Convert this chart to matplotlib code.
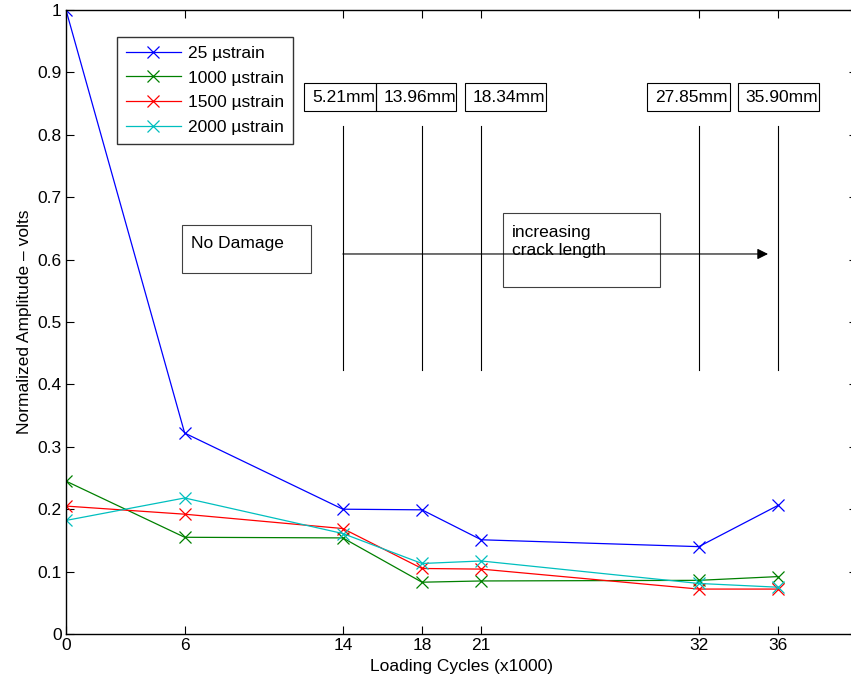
import matplotlib
matplotlib.use("Agg")
import matplotlib.pyplot as plt
from matplotlib.patches import Rectangle

plt.rcParams['font.family'] = ['Liberation Sans', 'DejaVu Sans']

cycles = [0, 6, 14, 18, 21, 32, 36]
amp_25 = [1.0, 0.322, 0.200, 0.199, 0.151, 0.140, 0.206]
amp_1000 = [0.245, 0.155, 0.154, 0.083, 0.085, 0.086, 0.092]
amp_1500 = [0.205, 0.192, 0.169, 0.105, 0.104, 0.072, 0.072]
amp_2000 = [0.182, 0.218, 0.161, 0.113, 0.117, 0.081, 0.075]
series_labels = ['25 µstrain', '1000 µstrain', '1500 µstrain', '2000 µstrain']
series_colors = ['#0000ff', '#008000', '#ff0000', '#00bfbf']

crack_cycles = [14, 18, 21, 32, 36]
crack_labels = ['5.21mm', '13.96mm', '18.34mm', '27.85mm', '35.90mm']
# box left/right in data units (annotation placement)
crack_box_x = [(12.03, 15.67), (15.67, 19.72), (20.17, 24.27), (29.37, 33.57), (33.97, 38.07)]

FS = 12.5

fig = plt.figure(figsize=(8.51, 6.85), dpi=100)
ax = fig.add_axes([66/851, 51/685, 791/851, 624/685])

for ys, lab, col in zip([amp_25, amp_1000, amp_1500, amp_2000], series_labels, series_colors):
    ax.plot(cycles, ys, color=col, marker='x', markersize=9, lw=0.9,
            markeredgewidth=0.9, label=lab)

ax.set_xlim(0, 40)
ax.set_ylim(0, 1)
ax.set_xticks(cycles)
ax.set_xticklabels([str(c) for c in cycles])
ax.set_yticks([i/10 for i in range(11)])
ax.set_yticklabels(['0'] + ['%.1f' % (i/10) for i in range(1, 10)] + ['1'])
ax.tick_params(direction='in', top=True, right=True, labelsize=FS, length=5.5, width=0.8, pad=3)
for s in ax.spines.values():
    s.set_linewidth(1.0)

ax.set_xlabel('Loading Cycles (x1000)', fontsize=FS, labelpad=4)
ax.set_ylabel('Normalized Amplitude – volts', fontsize=FS, labelpad=4)

# crack length boxes and vertical lines
for c, lab, (x0, x1) in zip(crack_cycles, crack_labels, crack_box_x):
    ax.add_patch(Rectangle((x0, 0.838), x1 - x0, 0.045, fill=False, ec='black', lw=0.8))
    ax.text(x0 + 0.4, 0.8605, lab, fontsize=FS, va='center', ha='left')
    ax.plot([c, c], [0.423, 0.814], color='black', lw=0.8)

# No damage box
ax.add_patch(Rectangle((5.86, 0.579), 12.39 - 5.86, 0.655 - 0.579, fill=False, ec='#404040', lw=0.8))
ax.text(6.32, 0.626, 'No Damage', fontsize=FS, va='center', ha='left')

# increasing crack length box
ax.add_patch(Rectangle((22.09, 0.556), 30.03 - 22.09, 0.675 - 0.556, fill=False, ec='#404040', lw=0.8))
ax.text(22.55, 0.644, 'increasing', fontsize=FS, va='center', ha='left')
ax.text(22.55, 0.615, 'crack length', fontsize=FS, va='center', ha='left')

ax.annotate('', xy=(35.5, 0.609), xytext=(14, 0.609),
            arrowprops=dict(arrowstyle='-|>', color='black', lw=0.8, mutation_scale=16,
                            shrinkA=0, shrinkB=0))

leg = ax.legend(loc='upper left', bbox_to_anchor=(51/791, 1 - 27/624), borderaxespad=0,
                fancybox=False, edgecolor='black', fontsize=FS, handlelength=3.2,
                labelspacing=0.55, borderpad=0.5, handletextpad=0.4)
leg.get_frame().set_linewidth(1.0)

fig.savefig('out.png', dpi=100)
